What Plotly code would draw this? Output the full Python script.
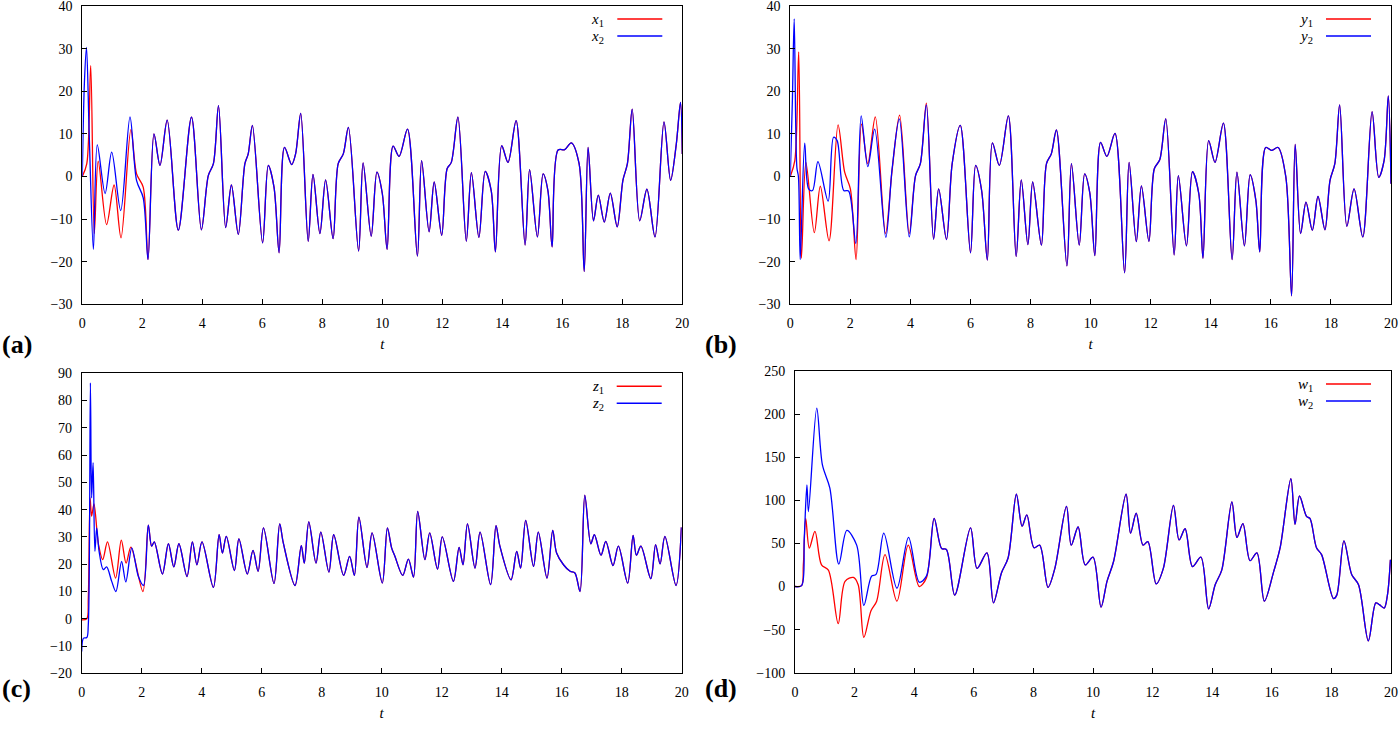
import plotly.graph_objects as go

# ---------------- data ----------------
# Panel (a): x1 (red), x2 (blue)
a_t_x1_early = [0, 0.15, 0.28, 0.4, 0.53, 0.81, 1.06, 1.29, 1.62, 1.81, 2.03]
a_x1_early = [0, 3, 26, -13.4, 3.6, -11.3, -2, -14.4, 11, 0.6, -2.5]
a_t_x2_early = [0, 0.07, 0.14, 0.23, 0.37, 0.5, 0.76, 0.98, 1.28, 1.59, 1.81, 2.03]
a_x2_early = [0, 22, 30.3, 10, -17.1, 7.4, -4, 5.7, -8, 14, -1, -5]
a_t_shared = [2.19, 2.39, 2.59, 2.83, 3.2, 3.64, 3.97, 4.2, 4.37, 4.54, 4.78, 4.97, 5.2, 5.42,
              5.53, 5.67, 6.01, 6.2, 6.39, 6.56, 6.74, 6.98, 7.11, 7.28, 7.53, 7.69, 7.92, 8.11,
              8.36, 8.53, 8.7, 8.87, 9.21, 9.36, 9.63, 9.82, 10.0, 10.16, 10.36, 10.56, 10.84,
              11.17, 11.31, 11.56, 11.73, 11.98, 12.16, 12.3, 12.52, 12.8, 12.97, 13.22, 13.43,
              13.63, 13.77, 13.98, 14.19, 14.46, 14.76, 14.91, 15.17, 15.36, 15.52, 15.66, 15.86,
              16.08, 16.3, 16.56, 16.73, 16.86, 17.04, 17.2, 17.4, 17.6, 17.83, 18.02, 18.17,
              18.33, 18.58, 18.82, 19.09, 19.39, 19.61, 19.8, 19.94, 20.0]
a_shared = [-19.5, 10, 2.6, 13.2, -12.6, 13.9, -12.5, 0.2, 3, 16.6, -12, -2, -13.6, 3,
            5.3, 12, -15.6, 2.6, -2.5, -17.9, 6.8, 2.8, 5.3, 14.8, -15.2, 0.5, -13.4, -0.8,
            -14.6, 3, 5.3, 11.5, -17.5, 3.2, -14, 1, -4, -17.1, 7.1, 4.7, 11.1,
            -18.7, 3.7, -13, -1.3, -13.8, 1.8, 3.3, 13.9, -15.2, 0.9, -14.3, 1.2,
            -3.3, -17.7, 7.2, 3.3, 13.1, -16.1, 1.6, -14.2, 0.6, -3.3, -16.5, 6.2,
            6.3, 7.9, 3, -22.3, 6.8, -10.4, -4.4, -10.7, -3.9, -11.8, -0.9, 3,
            15.8, -10.4, -3, -14.2, 12.8, -0.9, 7.6, 17.4, 5.3]

# Panel (b): y1 (red), y2 (blue)
b_t_y1_early = [0, 0.15, 0.28, 0.37, 0.52, 0.8, 1.0, 1.29, 1.59, 1.81, 2.0, 2.19, 2.37, 2.58,
                2.83, 3.17, 3.39, 3.64, 3.96, 4.17, 4.33, 4.53]
b_y1_early = [0, 3.7, 29.2, -19.2, 3.3, -13.2, -2.3, -15.1, 12.1, 1, -2.9, -19.5, 12.3, 3,
              14, -13.4, 1.5, 14.4, -13.4, 0.2, 3, 17.2]
b_t_y2_early = [0, 0.07, 0.13, 0.22, 0.27, 0.33, 0.48, 0.61, 0.74, 0.92, 1.26, 1.44, 1.56,
                1.78, 1.94, 2.18, 2.36, 2.58, 2.81, 3.18, 3.39, 3.63, 3.96, 4.17, 4.33, 4.53]
b_y2_early = [0, 18, 37, 2, 0, -19.5, 7.8, -2.9, -3.3, 3.5, -5.8, 9.2, 8.4,
              -3.3, -3.4, -15.7, 14.2, 2.3, 11.1, -14.3, 1.8, 13.5, -14.2, 0.2, 3, 16.8]
b_t_shared = [4.77, 4.94, 5.2, 5.39, 5.66, 6.0, 6.17, 6.37, 6.56, 6.73, 6.96, 7.26, 7.52, 7.69,
              7.91, 8.07, 8.36, 8.53, 8.69, 8.86, 9.21, 9.36, 9.62, 9.8, 9.97, 10.14, 10.33,
              10.54, 10.81, 11.13, 11.28, 11.52, 11.69, 11.94, 12.12, 12.3, 12.5, 12.78, 12.92,
              13.19, 13.39, 13.6, 13.74, 13.93, 14.14, 14.42, 14.71, 14.87, 15.12, 15.31, 15.5,
              15.63, 15.83, 16.02, 16.24, 16.5, 16.69, 16.81, 16.99, 17.17, 17.38, 17.57, 17.8,
              17.97, 18.13, 18.29, 18.53, 18.77, 19.06, 19.37, 19.59, 19.77, 19.91, 20.0]
b_shared = [-14.7, -2.9, -14.8, 3, 12, -17.9, 2.6, -3.3, -19.6, 7.9, 2.6, 14.2, -18.8, -0.8,
            -16, -1.3, -16.1, 3, 5.3, 10.9, -21, 3, -16.1, 0.6, -3.8, -18.6, 8,
            4.7, 10.1, -22.6, 3.3, -15.3, -2.2, -15.2, 1.8, 3.9, 13.5, -18.4, 0.2,
            -16.3, 1.1, -4, -19.2, 8.4, 3.3, 12.5, -19.5, 1, -16.3, 0.4, -5.6,
            -17.7, 6.8, 6.1, 6.8, -0.2, -28, 7.5, -13.4, -6, -12.6, -4.7, -12.5,
            -0.9, 3, 16.8, -11.7, -2.9, -14.2, 15.2, -0.2, 3.7, 18.9, -1.7]

# Panel (c): z1 (red), z2 (blue)
c_t_z1_early = [0, 0.17, 0.22, 0.28, 0.33, 0.41, 0.56, 0.7, 0.86, 1.13, 1.32, 1.48, 1.64, 2.04]
c_z1_early = [-0.4, 0, 7.6, 44.3, 37.6, 42.1, 27.2, 21.7, 28.2, 14.9, 28.8, 20.4, 26.3, 10]
c_t_z2_early = [0, 0.06, 0.17, 0.22, 0.29, 0.33, 0.38, 0.44, 0.5, 0.58, 0.72, 0.83, 1.0, 1.14,
                1.33, 1.47, 1.67, 1.89, 2.06]
c_z2_early = [-12, -7.1, -6.9, -2.2, 86.5, 44.3, 57.2, 24.7, 33.3, 24.7, 18, 19, 13.7, 10,
              21, 13.5, 26, 15.5, 12.2]
c_t_shared = [2.22, 2.33, 2.42, 2.69, 2.89, 3.07, 3.24, 3.51, 3.69, 3.84, 4.01, 4.39, 4.58, 4.69,
              4.82, 5.09, 5.24, 5.52, 5.71, 5.88, 6.06, 6.41, 6.6, 6.72, 7.11, 7.32, 7.42, 7.57,
              7.81, 7.97, 8.24, 8.4, 8.73, 8.93, 9.09, 9.24, 9.51, 9.68, 10.02, 10.19, 10.33,
              10.44, 10.7, 10.89, 11.06, 11.2, 11.44, 11.6, 11.86, 12.02, 12.39, 12.58, 12.71,
              12.86, 13.11, 13.28, 13.63, 13.81, 13.94, 14.31, 14.5, 14.63, 14.8, 15.06, 15.22,
              15.51, 15.7, 15.83, 16.06, 16.28, 16.44, 16.61, 16.77, 16.97, 17.09, 17.31, 17.47,
              17.71, 17.89, 18.2, 18.38, 18.49, 18.64, 18.97, 19.13, 19.28, 19.44, 19.81, 19.99]
c_shared = [34.3, 26.6, 28.2, 16.4, 27.5, 19, 27.5, 15.5, 28.2, 19.8, 28.2, 11.5, 30.8, 24.1,
            30.2, 17.7, 29.3, 16.4, 25.1, 17.4, 33.3, 12.9, 34.8, 27.8, 12.2, 26.8, 20.4, 35.5,
            20.4, 31.8, 17.1, 30.8, 15.9, 22.9, 15.9, 37.3, 18.8, 31.5, 13.1, 33.3, 26,
            22.9, 15.9, 21.9, 15.3, 39.4, 21.7, 31.5, 18.2, 30, 13.7, 26.2, 19.8,
            34.8, 18.6, 31.8, 12.5, 34.1, 26.6, 14.3, 24.7, 18.6, 36.1, 19.2, 31.8,
            14.9, 32.4, 24.1, 19.8, 17.4, 16.8, 10, 45.3, 27.5, 30.8, 23.3, 28.4,
            19.5, 26.6, 13.1, 30.6, 23.3, 26.6, 14.7, 27.2, 20.1, 30.2, 12.2, 33.5]

# Panel (d): w1 (red), w2 (blue)
d_t_w1_early = [0, 0.22, 0.28, 0.36, 0.48, 0.67, 0.89, 1.12, 1.45, 1.68, 1.96, 2.12, 2.31, 2.55,
                2.74, 3.02, 3.42, 3.8, 4.17, 4.41]
d_w1_early = [0, 1, 25, 79, 44.6, 64, 25, 19, -43, 6, 10.5, 2, -59, -28,
              -17, 37, -17, 48, 0, 10]
d_t_w2_early = [0, 0.22, 0.31, 0.4, 0.45, 0.73, 0.92, 1.17, 1.47, 1.74, 2.07, 2.31, 2.57, 2.72,
                2.98, 3.42, 3.81, 4.17, 4.41]
d_w2_early = [0, 1, 56, 118, 87, 207, 141, 114, 26, 65, 48, -22, 12, 14,
              62, -2, 57, 5, 12]
d_t_shared = [4.67, 4.92, 5.08, 5.36, 5.89, 6.11, 6.44, 6.66, 6.93, 7.15, 7.43, 7.62, 7.78, 8.02,
              8.21, 8.49, 8.72, 9.11, 9.27, 9.5, 9.74, 10.0, 10.27, 10.47, 10.69, 11.11, 11.26,
              11.45, 11.68, 11.84, 12.12, 12.36, 12.7, 12.89, 13.09, 13.34, 13.62, 13.88, 14.1,
              14.32, 14.66, 14.83, 15.03, 15.27, 15.5, 15.75, 16.06, 16.28, 16.64, 16.78, 16.93,
              17.17, 17.28, 17.5, 17.67, 18.07, 18.18, 18.42, 18.68, 18.91, 19.24, 19.49, 19.61,
              19.77, 19.88, 19.98]
d_shared = [79, 44, 43, -10, 68, 21, 39, -19, 16, 33, 107, 70, 83, 45,
            48, -1, 21, 93, 48, 69, 25, 34, -24, 6, 29, 107, 62,
            85, 48, 52, 3, 21, 94, 54, 67, 23, 34, -26, 2,
            19, 98, 57, 73, 30, 39, -17, 17, 45, 125, 72, 105,
            81, 79, 45, 37, -14, -10, 53, 14, 2, -63, -19, -21,
            -25, -10, 31]

# axis ticks
t_ticks = [0, 2, 4, 6, 8, 10, 12, 14, 16, 18, 20]
a_yticks = [-30, -20, -10, 0, 10, 20, 30, 40]
b_yticks = [-30, -20, -10, 0, 10, 20, 30, 40]
c_yticks = [-20, -10, 0, 10, 20, 30, 40, 50, 60, 70, 80, 90]
d_yticks = [-100, -50, 0, 50, 100, 150, 200, 250]

panels = [
    dict(name="x", t1=a_t_x1_early, v1=a_x1_early, t2=a_t_x2_early, v2=a_x2_early,
         ts=a_t_shared, vs=a_shared, yt=a_yticks, letter="(a)"),
    dict(name="y", t1=b_t_y1_early, v1=b_y1_early, t2=b_t_y2_early, v2=b_y2_early,
         ts=b_t_shared, vs=b_shared, yt=b_yticks, letter="(b)"),
    dict(name="z", t1=c_t_z1_early, v1=c_z1_early, t2=c_t_z2_early, v2=c_z2_early,
         ts=c_t_shared, vs=c_shared, yt=c_yticks, letter="(c)"),
    dict(name="w", t1=d_t_w1_early, v1=d_w1_early, t2=d_t_w2_early, v2=d_w2_early,
         ts=d_t_shared, vs=d_shared, yt=d_yticks, letter="(d)"),
]

# ---------------- layout geometry (pixels) ----------------
W, H = 1399, 731
boxes = [  # left, right, top, bottom in pixels
    (82.3, 682.3, 6.0, 304.3),
    (790.3, 1391.0, 6.0, 304.3),
    (81.7, 681.7, 373.3, 673.3),
    (795.0, 1391.0, 371.0, 672.7),
]
letter_pos = [(0, 345), (703, 345), (0, 688), (703, 688)]

FONT = "Liberation Serif, DejaVu Serif, serif"
RED = "#ff0000"
BLUE = "#0000ff"

fig = go.Figure()
layout = dict(width=W, height=H, margin=dict(l=0, r=0, t=0, b=0, autoexpand=False),
              paper_bgcolor="white", plot_bgcolor="white",
              font=dict(family=FONT, size=14, color="black"),
              showlegend=False, annotations=[], shapes=[])

for i, p in enumerate(panels):
    k = "" if i == 0 else str(i + 1)
    xa, ya = "x" + k, "y" + k
    t_red = p["t1"] + p["ts"]
    v_red = p["v1"] + p["vs"]
    t_blue = p["t2"] + p["ts"]
    v_blue = p["v2"] + p["vs"]
    fig.add_trace(go.Scatter(x=t_red, y=v_red, mode="lines", name=p["name"] + "1",
                             line=dict(color=RED, width=1.3, shape="spline", smoothing=0.9),
                             xaxis=xa, yaxis=ya))
    fig.add_trace(go.Scatter(x=t_blue, y=v_blue, mode="lines", name=p["name"] + "2",
                             line=dict(color=BLUE, width=1.3, shape="spline", smoothing=0.9),
                             xaxis=xa, yaxis=ya))
    l, r, tp, bt = boxes[i]
    common = dict(showline=True, linecolor="black", linewidth=1, mirror=True,
                  ticks="inside", ticklen=5, tickcolor="black", showgrid=False,
                  zeroline=False, automargin=False, ticklabeloverflow="allow",
                  tickfont=dict(family=FONT, size=14, color="black"))
    layout["xaxis" + k] = dict(common, domain=[l / W, r / W], range=[0, 20],
                               tickvals=t_ticks, anchor=ya, ticklabelstandoff=6,
                               title=dict(text="<i>t</i>", standoff=8,
                                          font=dict(family=FONT, size=15, color="black")))
    yt = p["yt"]
    layout["yaxis" + k] = dict(common, domain=[1 - bt / H, 1 - tp / H], range=[yt[0], yt[-1]],
                               tickvals=yt, anchor=xa, ticklabelstandoff=6)
    # panel letter
    lx, ly = letter_pos[i]
    layout["annotations"].append(dict(text="<b>" + p["letter"] + "</b>", xref="paper", yref="paper",
                                      x=lx / W, y=1 - ly / H, xanchor="left", yanchor="middle",
                                      showarrow=False,
                                      font=dict(family=FONT, size=26, color="black")))
    # legend entries (text then sample line)
    for j, col in enumerate([RED, BLUE]):
        yy = tp + 13 + j * 17
        txt_right = r - 76
        layout["annotations"].append(dict(text="<i>" + p["name"] + "</i><sub>" + str(j + 1) + "</sub>",
                                          xref="paper", yref="paper", x=txt_right / W,
                                          y=1 - (yy + 1) / H, xanchor="right", yanchor="middle",
                                          showarrow=False,
                                          font=dict(family=FONT, size=15, color="black")))
        layout["shapes"].append(dict(type="line", xref="paper", yref="paper",
                                     x0=(r - 65) / W, x1=(r - 20) / W,
                                     y0=1 - yy / H, y1=1 - yy / H,
                                     line=dict(color=col, width=1.5)))

fig.update_layout(**layout)
fig.write_html("out.html", config={"displayModeBar": False},
               post_script="document.body.style.margin='0';document.body.style.overflow='hidden';")
